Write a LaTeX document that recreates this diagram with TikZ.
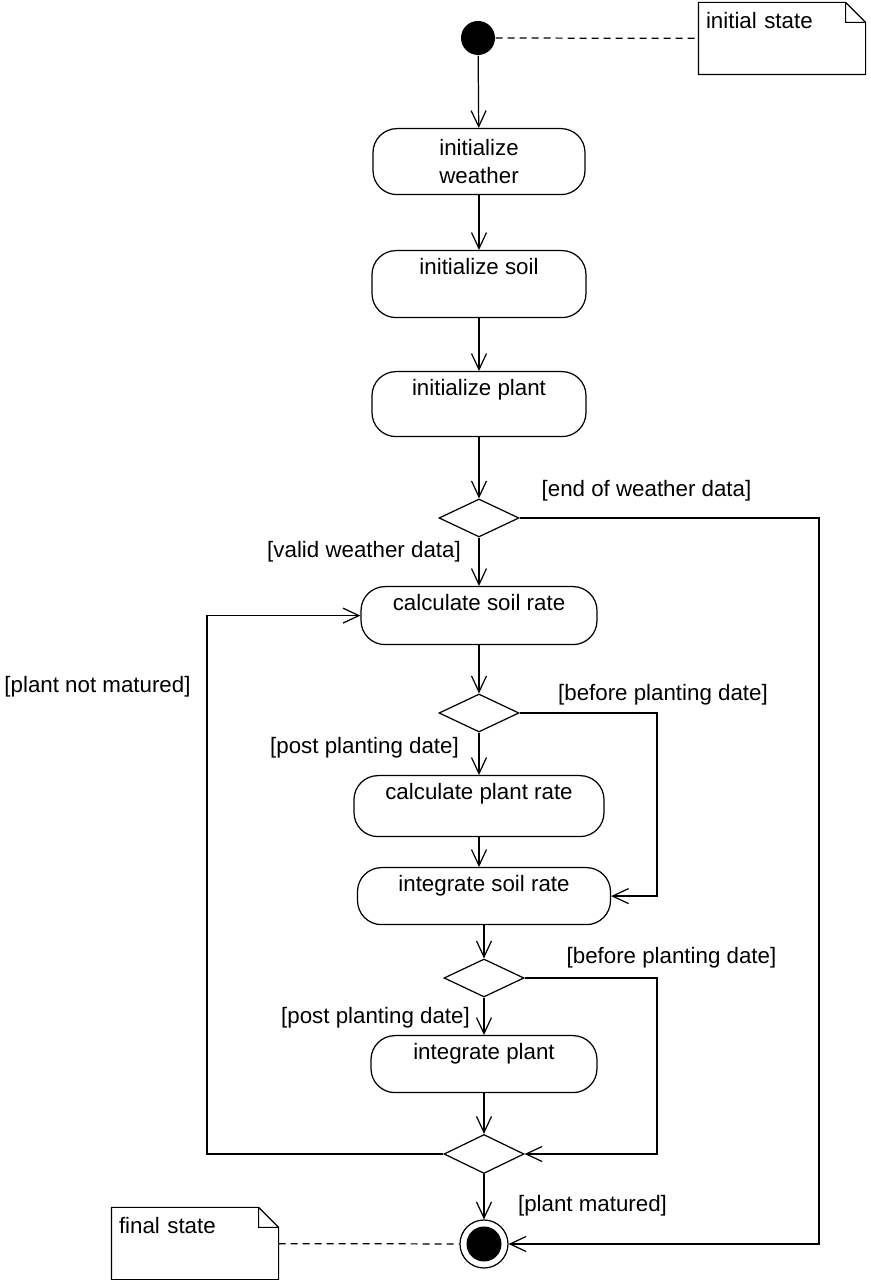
\documentclass[tikz,border=0pt]{standalone}
\usepackage{fontspec}
\setmainfont{Liberation Sans}
\usetikzlibrary{positioning,shapes.geometric,arrows.meta}

\begin{document}
\begin{tikzpicture}[line width=0.7pt, font=\fontsize{12.7}{15.9}\selectfont,
    activity/.style={draw, rounded corners=4.8mm, anchor=north, inner sep=0pt},
    toptext/.style={text height=4.8mm, text depth=#1},
    decision/.style={draw, diamond, minimum width=1.6cm, minimum height=0.76cm, inner sep=0pt},
    notebox/.style={inner xsep=1.4mm, inner ysep=0pt, text width=3.04cm, align=left, text height=5.2mm, text depth=9mm},
    flow/.style={-{Straight Barb[length=3.2mm,width=3mm]}},
    notelink/.style={dash pattern=on 1.4mm off 1mm}]
  \useasboundingbox (0,0) rectangle (17.42,25.6);
  % Start and end
  \node[circle, fill, minimum size=0.68cm, inner sep=0pt] (start) at (9.56,24.84) {};
  \node[notebox] (initnote) at (15.64,24.83) {initial state};
  \node[circle, draw, minimum size=0.96cm, inner sep=0pt] (final) at (9.68,0.72) {};
  \fill (final.center) circle (0.35);
  \node[notebox] (finalnote) at (3.90,0.73) {final state};
  % Actions and decisions
  \node[activity, minimum width=4.24cm, minimum height=1.32cm, align=center] (initweather) at (9.58,23.04) {initialize\\weather};
  \node[activity, toptext=8.6mm, minimum width=4.28cm] (initsoil) at (9.58,20.60) {initialize soil};
  \node[activity, toptext=8.2mm, minimum width=4.28cm] (initplant) at (9.58,18.18) {initialize plant};
  \node[decision] (dec1) at (9.58,15.24) {};
  \node[activity, toptext=6.8mm, minimum width=4.72cm] (calcsoil) at (9.58,13.88) {calculate soil rate};
  \node[decision] (dec2) at (9.58,11.34) {};
  \node[activity, toptext=7.4mm, minimum width=5.00cm] (calcplant) at (9.58,10.10) {calculate plant rate};
  \node[activity, toptext=6.6mm, minimum width=5.06cm] (intsoil) at (9.68,8.26) {integrate soil rate};
  \node[decision] (dec3) at (9.68,6.04) {};
  \node[activity, toptext=6.6mm, minimum width=4.52cm] (intplant) at (9.68,4.90) {integrate plant};
  \node[decision, minimum height=0.78cm] (dec4) at (9.68,2.52) {};
  % Guards
  \node (endlbl) at (12.93,15.78) {[end of weather data]};
  \node (validlbl) at (7.28,14.56) {[valid weather data]};
  \node (notmatlbl) at (1.95,11.86) {[plant not matured]};
  \node (before1lbl) at (13.26,11.70) {[before planting date]};
  \node (post1lbl) at (7.29,10.64) {[post planting date]};
  \node (before2lbl) at (13.43,6.44) {[before planting date]};
  \node (post2lbl) at (7.51,5.24) {[post planting date]};
  \node (matlbl) at (11.85,1.48) {[plant matured]};
  % Notes
  \foreach \n in {initnote,finalnote}
    \draw (\n.north west) -- ([xshift=-4mm]\n.north east) -- ([yshift=-4mm]\n.north east)
          -- (\n.south east) -- (\n.south west) -- cycle
          ([xshift=-4mm]\n.north east) |- ([yshift=-4mm]\n.north east);
  \draw[notelink] (start) -- (initnote);
  \draw[notelink] (finalnote) -- (final);
  % Main flow
  \foreach \a/\b in {start/initweather, initweather/initsoil, initsoil/initplant, initplant/dec1,
                     dec1/calcsoil, calcsoil/dec2, dec2/calcplant, intsoil/dec3, dec3/intplant,
                     intplant/dec4, dec4/final}
    \draw[flow] (\a) -- (\b);
  \draw[flow] (calcplant) -- (calcplant |- intsoil.north);
  % Side branches
  \coordinate (rbus) at (16.38,0);
  \coordinate (midbus) at (13.14,0);
  \coordinate (lbus) at (4.14,0);
  \draw[flow] (dec1.east) -| (rbus |- final) -- (final);
  \draw[flow] (dec2.east) -| (midbus |- intsoil) -- (intsoil);
  \draw[flow] (dec3.east) -| (midbus |- dec4) -- (dec4);
  \draw[flow] (dec4.west) -| (lbus |- calcsoil) -- (calcsoil);
\end{tikzpicture}
\end{document}
